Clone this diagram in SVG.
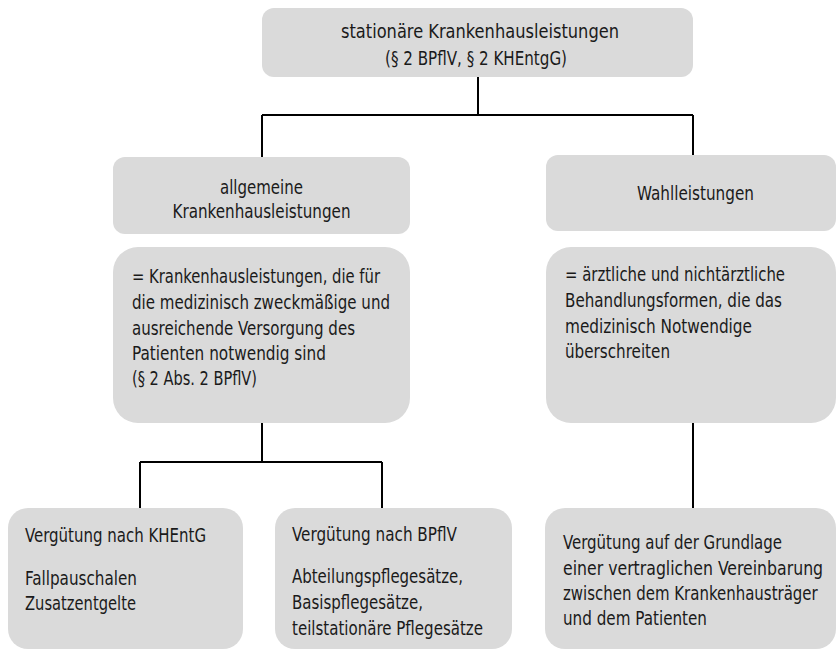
<svg xmlns="http://www.w3.org/2000/svg" width="837" height="650" viewBox="0 0 837 650">
<style>
.box{fill:#dadada;}
.t{font-family:"DejaVu Sans Condensed","Liberation Sans",sans-serif;font-size:19px;fill:#1a1a1a;}
.c{text-anchor:middle;}
.ln{stroke:#000;stroke-width:2;fill:none;}
</style>
<rect width="837" height="650" fill="#fff"/>
<g id="connectors">
<path class="ln" d="M478,77 V115 M262,115 H693 M262,115 V157 M693,115 V155"/>
<path class="ln" d="M262,423 V462 M140,462 H382 M140,462 V508 M382,462 V508"/>
<path class="ln" d="M693,423 V508"/>
</g>
<g id="n-stationaer">
<rect class="box" x="262" y="8" width="431" height="69" rx="12"/>
<text class="t c" x="480" y="38" textLength="278" lengthAdjust="spacingAndGlyphs">stationäre Krankenhausleistungen</text>
<text class="t c" x="476" y="65" textLength="182" lengthAdjust="spacingAndGlyphs">(§ 2 BPflV, § 2 KHEntgG)</text>
</g>
<g id="n-allgemeine">
<rect class="box" x="113" y="157" width="297" height="77" rx="12"/>
<text class="t c" x="261.5" y="194" textLength="83" lengthAdjust="spacingAndGlyphs">allgemeine</text>
<text class="t c" x="261.5" y="218" textLength="178" lengthAdjust="spacingAndGlyphs">Krankenhausleistungen</text>
</g>
<g id="n-wahl">
<rect class="box" x="546" y="155" width="290" height="76" rx="12"/>
<text class="t c" x="695.5" y="200" textLength="117" lengthAdjust="spacingAndGlyphs">Wahlleistungen</text>
</g>
<g id="n-allgemeine-def">
<rect class="box" x="113" y="247" width="297" height="176" rx="25"/>
<text class="t" x="132" y="283" textLength="248" lengthAdjust="spacingAndGlyphs">= Krankenhausleistungen, die für</text>
<text class="t" x="132" y="309" textLength="258" lengthAdjust="spacingAndGlyphs">die medizinisch zweckmäßige und</text>
<text class="t" x="132" y="335" textLength="223" lengthAdjust="spacingAndGlyphs">ausreichende Versorgung des</text>
<text class="t" x="132" y="360" textLength="194" lengthAdjust="spacingAndGlyphs">Patienten notwendig sind</text>
<text class="t" x="132" y="385" textLength="125" lengthAdjust="spacingAndGlyphs">(§ 2 Abs. 2 BPflV)</text>
</g>
<g id="n-wahl-def">
<rect class="box" x="546" y="247" width="290" height="176" rx="25"/>
<text class="t" x="565" y="281" textLength="220" lengthAdjust="spacingAndGlyphs">= ärztliche und nichtärztliche</text>
<text class="t" x="565" y="307" textLength="217" lengthAdjust="spacingAndGlyphs">Behandlungsformen, die das</text>
<text class="t" x="565" y="333" textLength="187" lengthAdjust="spacingAndGlyphs">medizinisch Notwendige</text>
<text class="t" x="565" y="358" textLength="105" lengthAdjust="spacingAndGlyphs">überschreiten</text>
</g>
<g id="n-khentg">
<rect class="box" x="8" y="508" width="235" height="141" rx="20"/>
<text class="t" x="25" y="542" textLength="181" lengthAdjust="spacingAndGlyphs">Vergütung nach KHEntG</text>
<text class="t" x="25" y="585" textLength="112" lengthAdjust="spacingAndGlyphs">Fallpauschalen</text>
<text class="t" x="25" y="610" textLength="111" lengthAdjust="spacingAndGlyphs">Zusatzentgelte</text>
</g>
<g id="n-bpflv">
<rect class="box" x="275" y="508" width="237" height="141" rx="20"/>
<text class="t" x="292" y="541" textLength="165" lengthAdjust="spacingAndGlyphs">Vergütung nach BPflV</text>
<text class="t" x="292" y="583" textLength="171" lengthAdjust="spacingAndGlyphs">Abteilungspflegesätze,</text>
<text class="t" x="292" y="609" textLength="131" lengthAdjust="spacingAndGlyphs">Basispflegesätze,</text>
<text class="t" x="292" y="635" textLength="191" lengthAdjust="spacingAndGlyphs">teilstationäre Pflegesätze</text>
</g>
<g id="n-vertrag">
<rect class="box" x="545" y="508" width="291" height="141" rx="20"/>
<text class="t" x="563" y="549" textLength="219" lengthAdjust="spacingAndGlyphs">Vergütung auf der Grundlage</text>
<text class="t" transform="translate(563,575) scale(0.9,1)" x="0" y="0" textLength="289" lengthAdjust="spacingAndGlyphs">einer vertraglichen Vereinbarung</text>
<text class="t" transform="translate(563,600) scale(0.9,1)" x="0" y="0" textLength="283" lengthAdjust="spacingAndGlyphs">zwischen dem Krankenhausträger</text>
<text class="t" x="563" y="625" textLength="144" lengthAdjust="spacingAndGlyphs">und dem Patienten</text>
</g>
</svg>
